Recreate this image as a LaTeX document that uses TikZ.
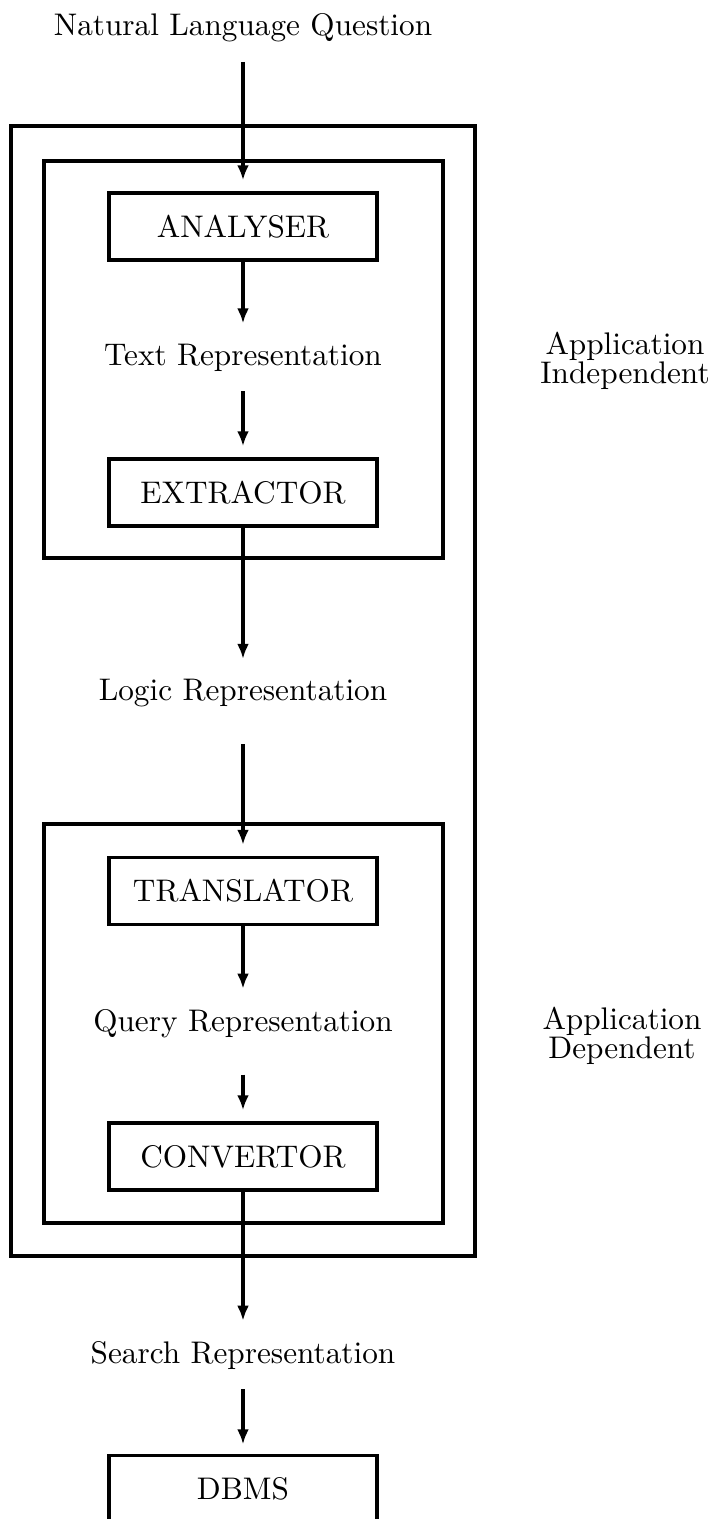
\documentclass[tikz,border=0pt]{standalone}
\usetikzlibrary{arrows.meta}
\tikzset{
  stage/.style={draw, line width=1.2pt, minimum width=85.8pt, minimum height=21.4pt, inner sep=0pt},
  repr/.style={anchor=base, inner xsep=2pt, inner ysep=6.3pt},
  side/.style={align=center, font={\fontsize{10}{9.3}\selectfont\lineskiplimit=-10pt}},
  flow/.style={line width=1.2pt, -{Latex[length=4.8pt,width=3.8pt]}},
}

\begin{document}
\begin{tikzpicture}[x=0.32pt, y=-0.32pt]
			%%%%% START %%%%%
			\useasboundingbox (0,0) rectangle (715,1519);
			
			% frames
			\draw[line width=1.2pt] (11,126) rectangle (475,1256);
			\draw[line width=1.2pt] (44,161) rectangle (443,558);
			\draw[line width=1.2pt] (44,824) rectangle (443,1223);
			
			% stages and representations
			\node[repr] (question) at (243,35) {Natural Language Question};
			\node[stage] (analyser) at (243,226.5) {ANALYSER};
			\node[repr] (textrep) at (243,365) {Text Representation};
			\node[stage] (extractor) at (243,492.5) {EXTRACTOR};
			\node[repr] (logicrep) at (243,700.5) {Logic Representation};
			\node[stage] (translator) at (243,891) {TRANSLATOR};
			\node[repr] (queryrep) at (243,1031) {Query Representation};
			\node[stage] (convertor) at (243,1156.5) {CONVERTOR};
			\node[repr] (searchrep) at (243,1363) {Search Representation};
			\node[stage] (dbms) at (243,1489) {DBMS};
			
			\node[side] (indep) at (625,361) {Application\\Independent};
			\node[side] (dep) at (622,1036) {Application\\Dependent};
			
			% flow
			\draw[flow, shorten >=3.5pt] (question) -- (analyser);
			\draw[flow] (analyser) -- (textrep);
			\draw[flow, shorten >=3.5pt] (textrep) -- (extractor);
			\draw[flow] (extractor) -- (logicrep);
			\draw[flow, shorten <=5.4pt, shorten >=3.5pt] (logicrep) -- (translator);
			\draw[flow] (translator) -- (queryrep);
			\draw[flow, shorten <=5.4pt, shorten >=3.5pt] (queryrep) -- (convertor);
			\draw[flow] (convertor) -- (searchrep);
			\draw[flow, shorten >=3pt] (searchrep) -- (dbms);
			
			%%%%% END %%%%%
\end{tikzpicture}
\end{document}
